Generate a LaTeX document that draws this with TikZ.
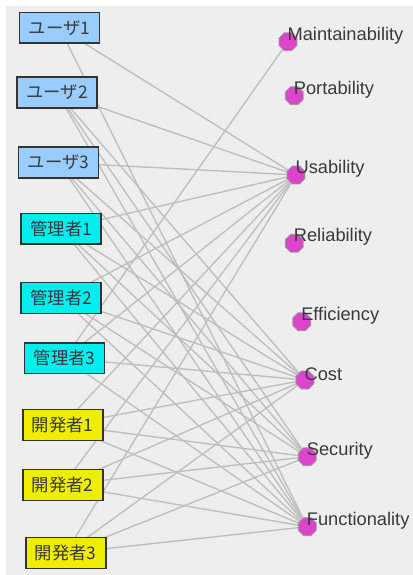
\documentclass[tikz,border=0pt]{standalone}
\usepackage{fontspec}
\setmainfont{Liberation Sans}
\newfontfamily\jpfont{Noto Sans CJK JP}
\usetikzlibrary{shapes.geometric}
\definecolor{bgc}{HTML}{EEEEEE}
\definecolor{edgec}{HTML}{BEBEBE}
\definecolor{userc}{HTML}{99CCFF}
\definecolor{adminc}{HTML}{00EEEE}
\definecolor{devc}{HTML}{EEEE00}
\definecolor{attrc}{HTML}{DD44CC}
\definecolor{boxline}{HTML}{333333}
\definecolor{labc}{HTML}{3A3A3A}
\tikzset{
  actor/.style={draw=boxline, line width=1.1pt, minimum width=60pt, minimum height=23pt, inner sep=0pt, font=\jpfont\fontsize{13}{13}\selectfont, text=labc},
  user/.style={actor, fill=userc},
  admin/.style={actor, fill=adminc},
  dev/.style={actor, fill=devc},
  attr/.style={regular polygon, regular polygon sides=8, fill=attrc, draw=gray!80, line width=0.6pt, minimum size=14.5pt, inner sep=0pt},
  attrlab/.style={anchor=west, inner sep=0pt, font=\fontsize{13.7}{13.7}\selectfont, text=labc},
  link/.style={draw=edgec, line width=1pt}
}
\begin{document}
\begin{tikzpicture}[x=0.75pt, y=-0.75pt]
\useasboundingbox (0,0) rectangle (413,575);
\fill[white] (0,0) rectangle (413,575);
\fill[bgc] (6,6) rectangle (413,575);
% attribute coordinates
\coordinate (M) at (288,41.7);
\coordinate (P) at (294.3,95.7);
\coordinate (U) at (296,175);
\coordinate (R) at (294.3,243.3);
\coordinate (E) at (301.7,321.7);
\coordinate (C) at (305,380);
\coordinate (S) at (307.3,456.7);
\coordinate (F) at (307.3,526.7);
% actor coordinates
\coordinate (u1) at (59.5,27.8);
\coordinate (u2) at (57,92.5);
\coordinate (u3) at (58.5,162.5);
\coordinate (a1) at (61.2,228.7);
\coordinate (a2) at (61.2,298);
\coordinate (a3) at (64.5,358.3);
\coordinate (d1) at (62.8,425);
\coordinate (d2) at (62.8,485);
\coordinate (d3) at (65.8,553);
% edges
\foreach \s/\t in {u1/U,u1/F,
  u2/U,u2/C,u2/S,u2/F,
  u3/U,u3/C,u3/S,u3/F,
  a1/U,a1/C,a1/S,a1/F,
  a2/U,a2/C,a2/S,a2/F,
  a3/M,a3/U,a3/C,a3/F,
  d1/U,d1/C,d1/S,d1/F,
  d2/U,d2/C,d2/S,d2/F,
  d3/U,d3/C,d3/S,d3/F}
  \draw[link] (\s) -- (\t);
% actor nodes
\node[user] (nu1) at (u1) {ユーザ1};
\node[user] (nu2) at (u2) {ユーザ2};
\node[user] (nu3) at (u3) {ユーザ3};
\node[admin] (na1) at (a1) {管理者1};
\node[admin] (na2) at (a2) {管理者2};
\node[admin] (na3) at (a3) {管理者3};
\node[dev] (nd1) at (d1) {開発者1};
\node[dev] (nd2) at (d2) {開発者2};
\node[dev] (nd3) at (d3) {開発者3};
% attribute nodes
\foreach \n/\l in {M/Maintainability,P/Portability,U/Usability,R/Reliability,E/Efficiency,C/Cost,S/Security,F/Functionality}{
  \node[attr] (n\n) at (\n) {};
  \node[attrlab] (l\n) at ([yshift=4.6pt,xshift=-0.5pt]\n) {\l};
}
\end{tikzpicture}
\end{document}
